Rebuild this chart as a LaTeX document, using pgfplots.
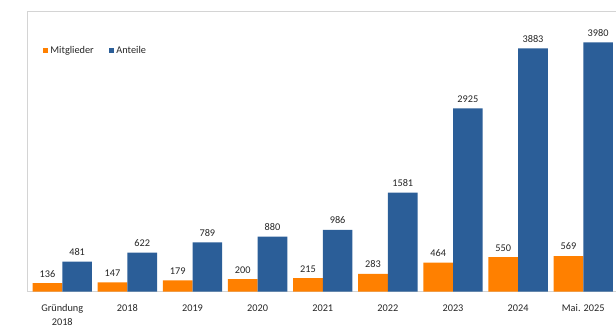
\documentclass[border=0pt]{standalone}
\usepackage{pgfplots}
\pgfplotsset{compat=1.18}
\usepackage{fontspec}
\setmainfont{Carlito}
\definecolor{morange}{HTML}{FF8000}
\definecolor{mblue}{HTML}{2B5E98}
\definecolor{frame}{HTML}{D4D4D4}
\definecolor{txt}{HTML}{262626}
\begin{document}
\begin{tikzpicture}
\useasboundingbox (0,0) rectangle (616pt,328pt);
\begin{axis}[
  at={(27.3pt,36.3pt)}, anchor=south west,
  scale only axis,
  width=588.2pt, height=280pt,
  xmin=-0.537, xmax=8.495,
  ymin=0, ymax=4470,
  ybar=0pt, bar width=29.7pt,
  axis x line*=bottom, axis y line*=left,
  axis line style={frame, line width=1pt, -},
  xtick=data, ytick=\empty,
  xtick style={draw=none},
  xticklabels={{Gründung\\2018},2018,2019,2020,2021,2022,2023,2024,Mai. 2025},
  xticklabel style={align=center, font=\fontsize{10.3}{14}\selectfont, text=txt, yshift=-5pt},
  nodes near coords,
  nodes near coords style={font=\fontsize{10.3}{12}\selectfont, text=txt, yshift=2.5pt,
    /pgf/number format/assume math mode=true, /pgf/number format/1000 sep={}},
  legend columns=2,
  legend style={draw=none, fill=none, at={(0.026,0.861)}, anchor=west,
    font=\fontsize{10.3}{12}\selectfont, text=txt, inner sep=0pt,
    /tikz/every even column/.append style={column sep=13pt}},
  legend image code/.code={\fill[#1] (0pt,-2.8pt) rectangle (5.6pt,2.8pt);},
  clip=false,
]
\addplot[fill=morange, draw=none] coordinates {(0,136) (1,147) (2,179) (3,200) (4,215) (5,283) (6,464) (7,550) (8,569)};
\addplot[fill=mblue, draw=none] coordinates {(0,481) (1,622) (2,789) (3,880) (4,986) (5,1581) (6,2925) (7,3883) (8,3980)};
\legend{Mitglieder, Anteile}
\draw[frame, line width=1pt] (rel axis cs:0,1) -- (rel axis cs:1,1);
\end{axis}
\end{tikzpicture}
\end{document}
